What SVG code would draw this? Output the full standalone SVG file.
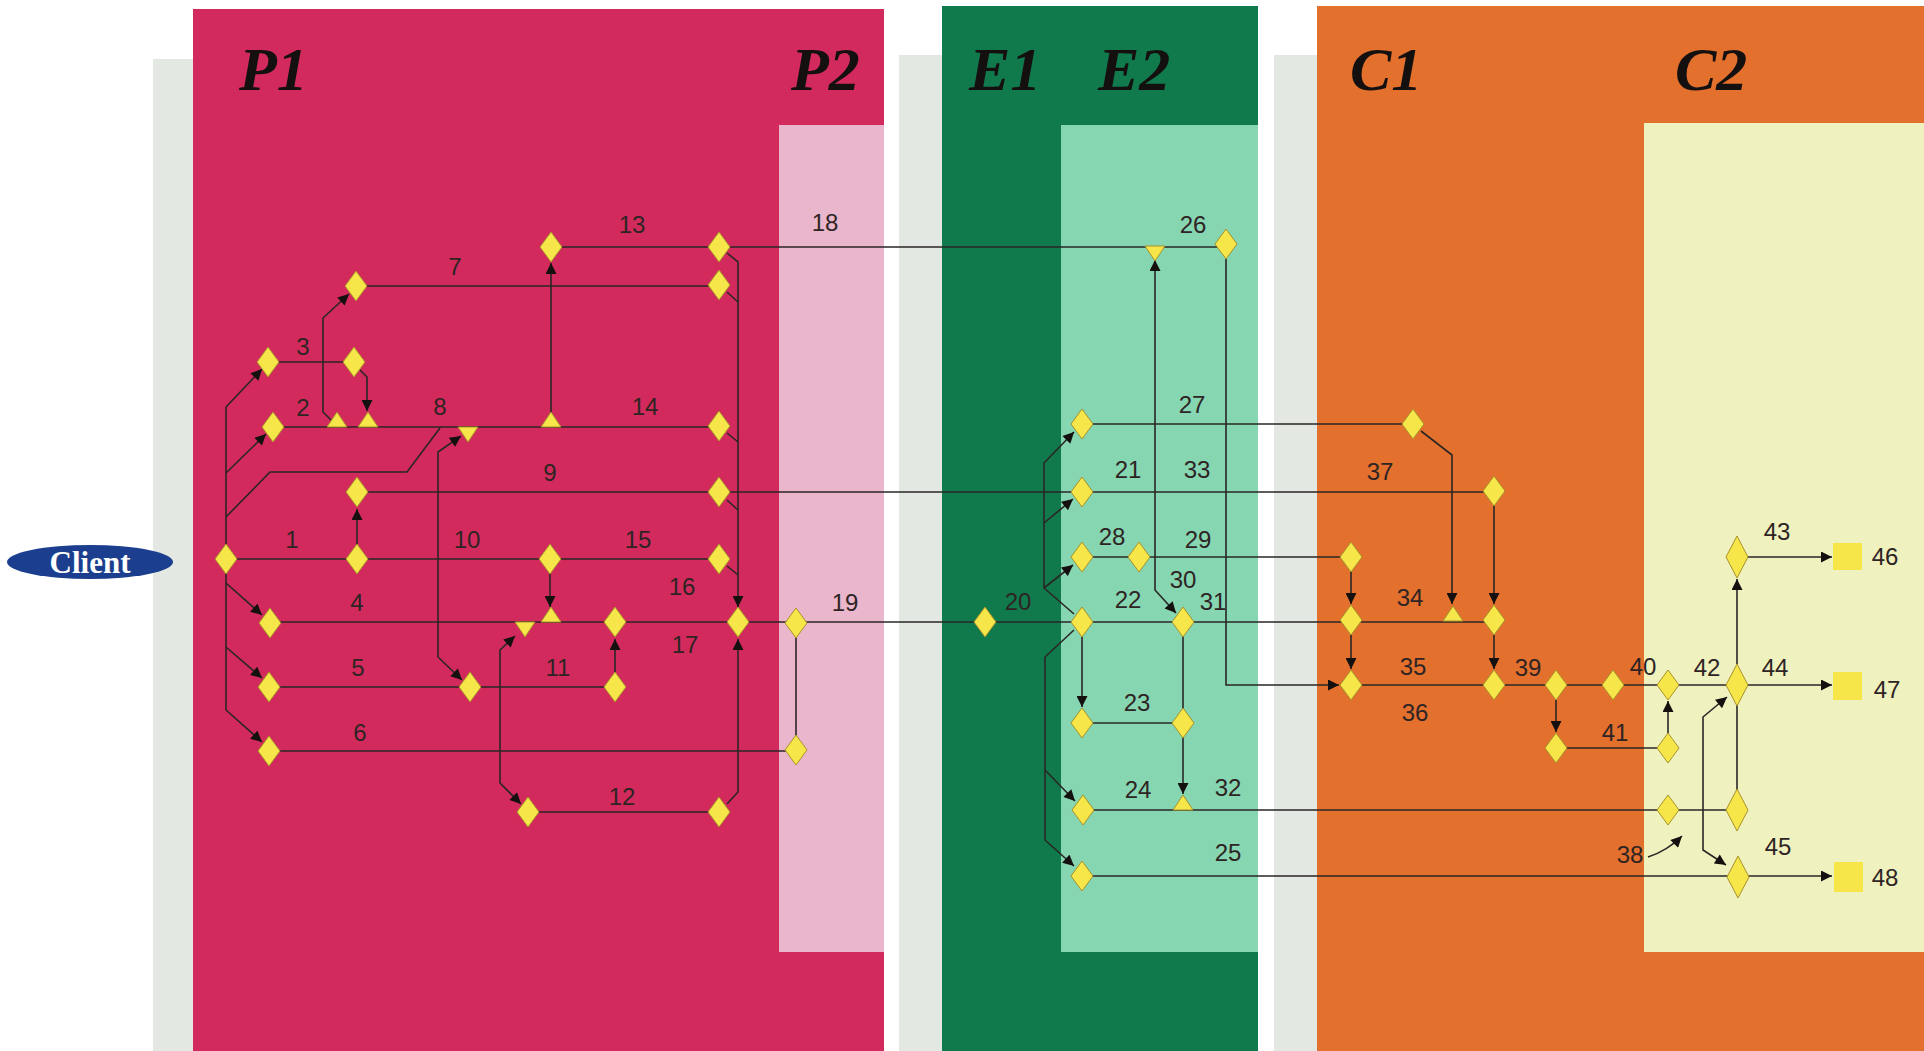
<svg xmlns="http://www.w3.org/2000/svg" width="1924" height="1051" viewBox="0 0 1924 1051">
<style>
.ln{fill:none;stroke:#2a2626;stroke-width:1.6}
.ar{marker-end:url(#ah)}
.ar2{marker-start:url(#ah);marker-end:url(#ah)}
.lab{font-family:"Liberation Sans Narrow","Liberation Sans",Arial,sans-serif;font-size:24px;fill:#2e2424;text-anchor:middle}
.hd{font-family:"Liberation Serif","Times New Roman",serif;font-size:62px;font-weight:bold;font-style:italic;fill:#141010}
.dm{fill:#f6e64a;stroke:#a8922a;stroke-width:1}
.sq{fill:#f6e64a}
</style>
<defs>
<marker id="ah" viewBox="0 0 10 10" refX="10" refY="5" markerWidth="12" markerHeight="11" markerUnits="userSpaceOnUse" orient="auto-start-reverse">
<path d="M0,0 L10,5 L0,10 Z" fill="#141010"/>
</marker>
<path id="d" class="dm" d="M0,-15 L11,0 L0,15 L-11,0 Z"/>
<path id="dt" class="dm" d="M0,-21 L11,0 L0,21 L-11,0 Z"/>
<path id="tu" class="dm" d="M-10,0 L10,0 L0,-15 Z"/>
<path id="td" class="dm" d="M-10,0 L10,0 L0,15 Z"/>
</defs>
<rect width="1924" height="1051" fill="#ffffff"/>
<g id="panels">
<rect x="153" y="59" width="45" height="992" fill="#e3e8e3"/>
<rect x="193" y="9" width="691" height="1042" fill="#d22a5c"/>
<rect x="779" y="125" width="105" height="827" fill="#eab6cb"/>
<rect x="899" y="55" width="48" height="996" fill="#e3e8e3"/>
<rect x="942" y="6" width="316" height="1045" fill="#117a4c"/>
<rect x="1061" y="125" width="197" height="827" fill="#86d6b2"/>
<rect x="1274" y="55" width="48" height="996" fill="#e3e8e3"/>
<rect x="1317" y="6" width="607" height="1045" fill="#e3702c"/>
<rect x="1644" y="123" width="280" height="829" fill="#eff1be"/>
</g>
<g id="headings">
<text class="hd" x="239" y="90">P1</text>
<text class="hd" x="791" y="90">P2</text>
<text class="hd" x="969" y="90">E1</text>
<text class="hd" x="1098" y="90">E2</text>
<text class="hd" x="1350" y="90">C1</text>
<text class="hd" x="1675" y="90">C2</text>
</g>
<g id="client">
<ellipse cx="90" cy="562" rx="83" ry="17" fill="#1b3f8e"/>
<text x="90" y="573" font-family="Liberation Serif,serif" font-size="31" font-weight="bold" fill="#ffffff" text-anchor="middle">Client</text>
</g>
<g id="connectors">
<path class="ln ar" d="M226,545 V407 L262,369"/>
<path class="ln ar" d="M226,473 L266,434"/>
<path class="ln" d="M226,517 L270,472 H407 L440,428"/>
<path class="ln ar" d="M226,573 V710 L262,742"/>
<path class="ln ar" d="M226,583 L262,615"/>
<path class="ln ar" d="M226,647 L262,678"/>
<path class="ln" d="M226,559 H719"/>
<path class="ln" d="M273,427 H719"/>
<path class="ln" d="M268,362 H354"/>
<path class="ln ar" d="M360,370 L367,377 V411"/>
<path class="ln ar" d="M331,420 L323,412 V318 L349,294"/>
<path class="ln" d="M356,286 H719"/>
<path class="ln" d="M551,247 H1226"/>
<path class="ln ar" d="M551,413 V263"/>
<path class="ln" d="M357,492 H1494"/>
<path class="ln ar" d="M357,545 V509"/>
<path class="ln" d="M270,622 H1494"/>
<path class="ln" d="M269,687 H615"/>
<path class="ln" d="M269,751 H796"/>
<path class="ln ar2" d="M461,436 L438,452 V657 L462,680"/>
<path class="ln ar2" d="M515,636 L500,650 V783 L521,804"/>
<path class="ln ar" d="M550,573 V607"/>
<path class="ln ar" d="M615,673 V639"/>
<path class="ln" d="M528,812 H719"/>
<path class="ln ar" d="M727,253 L738,262 V607"/>
<path class="ln" d="M727,292 L738,302"/>
<path class="ln" d="M727,433 L738,442"/>
<path class="ln" d="M727,500 L738,510"/>
<path class="ln" d="M727,566 L738,575"/>
<path class="ln ar" d="M727,804 L738,792 V639"/>
<path class="ln" d="M796,623 V750"/>
<path class="ln ar" d="M1074,614 L1044,588 V463 L1074,432"/>
<path class="ln ar" d="M1044,523 L1073,499"/>
<path class="ln ar" d="M1044,588 L1073,565"/>
<path class="ln ar" d="M1074,630 L1045,657 V840 L1074,866"/>
<path class="ln ar" d="M1045,770 L1075,801"/>
<path class="ln ar" d="M1082,637 V707"/>
<path class="ln" d="M1082,723 H1183"/>
<path class="ln ar" d="M1183,622 V794"/>
<path class="ln ar2" d="M1155,260 V590 L1176,613"/>
<path class="ln" d="M1082,557 H1351"/>
<path class="ln" d="M1082,424 H1413"/>
<path class="ln" d="M1083,810 H1737"/>
<path class="ln ar" d="M1082,876 H1832"/>
<path class="ln ar" d="M1226,259 V685 H1339"/>
<path class="ln ar" d="M1421,431 L1452,455 V604"/>
<path class="ln ar" d="M1494,505 V604"/>
<path class="ln ar" d="M1351,571 V604"/>
<path class="ln ar" d="M1351,635 V669"/>
<path class="ln ar" d="M1494,635 V669"/>
<path class="ln ar" d="M1351,685 H1832"/>
<path class="ln ar" d="M1556,700 V732"/>
<path class="ln" d="M1556,748 H1668"/>
<path class="ln ar" d="M1668,733 V701"/>
<path class="ln ar" d="M1737,664 V579"/>
<path class="ln ar" d="M1737,557 H1832"/>
<path class="ln" d="M1737,685 V810"/>
<path class="ln ar2" d="M1727,697 L1703,717 V850 L1726,865"/>
<path class="ln ar" d="M1648,857 Q1667,851 1682,836"/>
</g>
<g id="n-start"><use href="#d" x="226" y="559"/></g>
<g id="n3a"><use href="#d" x="268" y="362"/></g>
<g id="n3b"><use href="#d" x="354" y="362"/></g>
<g id="n2a"><use href="#d" x="273" y="427"/></g>
<g id="t2a"><use href="#tu" x="337" y="427"/></g>
<g id="t2b"><use href="#tu" x="368" y="427"/></g>
<g id="t8"><use href="#td" x="468" y="427"/></g>
<g id="t14"><use href="#tu" x="551" y="427"/></g>
<g id="n7a"><use href="#d" x="356" y="286"/></g>
<g id="n9a"><use href="#d" x="357" y="492"/></g>
<g id="n1b"><use href="#d" x="357" y="559"/></g>
<g id="n4a"><use href="#d" x="270" y="623"/></g>
<g id="n5a"><use href="#d" x="269" y="687"/></g>
<g id="n6a"><use href="#d" x="269" y="751"/></g>
<g id="n5b"><use href="#d" x="470" y="687"/></g>
<g id="n13a"><use href="#d" x="551" y="247"/></g>
<g id="n13b"><use href="#d" x="719" y="247"/></g>
<g id="n7b"><use href="#d" x="719" y="285"/></g>
<g id="n14b"><use href="#d" x="719" y="426"/></g>
<g id="n9b"><use href="#d" x="719" y="492"/></g>
<g id="n15a"><use href="#d" x="550" y="559"/></g>
<g id="n15b"><use href="#d" x="719" y="559"/></g>
<g id="t4a"><use href="#td" x="525" y="622"/></g>
<g id="t4b"><use href="#tu" x="551" y="622"/></g>
<g id="n11a"><use href="#d" x="615" y="622"/></g>
<g id="n11b"><use href="#d" x="615" y="687"/></g>
<g id="n12a"><use href="#d" x="528" y="812"/></g>
<g id="n12b"><use href="#d" x="719" y="812"/></g>
<g id="n16"><use href="#d" x="738" y="622"/></g>
<g id="n19"><use href="#d" x="796" y="623"/></g>
<g id="n6b"><use href="#d" x="796" y="750"/></g>
<g id="n20"><use href="#d" x="985" y="622"/></g>
<g id="n27a"><use href="#d" x="1082" y="424"/></g>
<g id="n21"><use href="#d" x="1082" y="492"/></g>
<g id="n28a"><use href="#d" x="1082" y="557"/></g>
<g id="n28b"><use href="#d" x="1139" y="557"/></g>
<g id="n22"><use href="#d" x="1082" y="622"/></g>
<g id="n22b"><use href="#d" x="1183" y="622"/></g>
<g id="n23a"><use href="#d" x="1082" y="723"/></g>
<g id="n23b"><use href="#d" x="1183" y="723"/></g>
<g id="t32"><use href="#tu" x="1183" y="810"/></g>
<g id="n24a"><use href="#d" x="1083" y="810"/></g>
<g id="n25a"><use href="#d" x="1082" y="876"/></g>
<g id="n26"><use href="#d" x="1226" y="244"/></g>
<g id="t26"><use href="#td" x="1155" y="246"/></g>
<g id="n27b"><use href="#d" x="1413" y="424"/></g>
<g id="n33b"><use href="#d" x="1494" y="491"/></g>
<g id="n29b"><use href="#d" x="1351" y="557"/></g>
<g id="n34a"><use href="#d" x="1351" y="620"/></g>
<g id="t34"><use href="#tu" x="1453" y="621"/></g>
<g id="n34b"><use href="#d" x="1494" y="620"/></g>
<g id="n35a"><use href="#d" x="1351" y="685"/></g>
<g id="n35b"><use href="#d" x="1494" y="685"/></g>
<g id="n39"><use href="#d" x="1556" y="685"/></g>
<g id="n39b"><use href="#d" x="1556" y="748"/></g>
<g id="n40a"><use href="#d" x="1613" y="685"/></g>
<g id="n40b"><use href="#d" x="1668" y="685"/></g>
<g id="n41b"><use href="#d" x="1668" y="748"/></g>
<g id="n24b"><use href="#d" x="1668" y="810"/></g>
<g id="n42"><use href="#dt" x="1737" y="685"/></g>
<g id="n43"><use href="#dt" x="1737" y="557"/></g>
<g id="n24c"><use href="#dt" x="1737" y="810"/></g>
<g id="n45"><use href="#dt" x="1738" y="877"/></g>
<g id="n46"><rect class="sq" x="1833" y="543" width="29" height="27"/></g>
<g id="n47"><rect class="sq" x="1833" y="672" width="29" height="28"/></g>
<g id="n48"><rect class="sq" x="1834" y="862" width="29" height="30"/></g>
<g id="labels">
<text class="lab" x="292" y="548">1</text>
<text class="lab" x="303" y="416">2</text>
<text class="lab" x="303" y="355">3</text>
<text class="lab" x="357" y="611">4</text>
<text class="lab" x="358" y="676">5</text>
<text class="lab" x="360" y="741">6</text>
<text class="lab" x="455" y="275">7</text>
<text class="lab" x="440" y="415">8</text>
<text class="lab" x="550" y="481">9</text>
<text class="lab" x="467" y="548">10</text>
<text class="lab" x="558" y="676">11</text>
<text class="lab" x="622" y="805">12</text>
<text class="lab" x="632" y="233">13</text>
<text class="lab" x="645" y="415">14</text>
<text class="lab" x="638" y="548">15</text>
<text class="lab" x="682" y="595">16</text>
<text class="lab" x="685" y="653">17</text>
<text class="lab" x="825" y="231">18</text>
<text class="lab" x="845" y="611">19</text>
<text class="lab" x="1018" y="610">20</text>
<text class="lab" x="1128" y="478">21</text>
<text class="lab" x="1128" y="608">22</text>
<text class="lab" x="1137" y="711">23</text>
<text class="lab" x="1138" y="798">24</text>
<text class="lab" x="1228" y="861">25</text>
<text class="lab" x="1193" y="233">26</text>
<text class="lab" x="1192" y="413">27</text>
<text class="lab" x="1112" y="545">28</text>
<text class="lab" x="1198" y="548">29</text>
<text class="lab" x="1183" y="588">30</text>
<text class="lab" x="1213" y="610">31</text>
<text class="lab" x="1228" y="796">32</text>
<text class="lab" x="1197" y="478">33</text>
<text class="lab" x="1410" y="606">34</text>
<text class="lab" x="1413" y="675">35</text>
<text class="lab" x="1415" y="721">36</text>
<text class="lab" x="1380" y="480">37</text>
<text class="lab" x="1630" y="863">38</text>
<text class="lab" x="1528" y="676">39</text>
<text class="lab" x="1643" y="675">40</text>
<text class="lab" x="1615" y="741">41</text>
<text class="lab" x="1707" y="676">42</text>
<text class="lab" x="1777" y="540">43</text>
<text class="lab" x="1775" y="676">44</text>
<text class="lab" x="1778" y="855">45</text>
<text class="lab" x="1885" y="565">46</text>
<text class="lab" x="1887" y="698">47</text>
<text class="lab" x="1885" y="886">48</text>
</g>
</svg>
